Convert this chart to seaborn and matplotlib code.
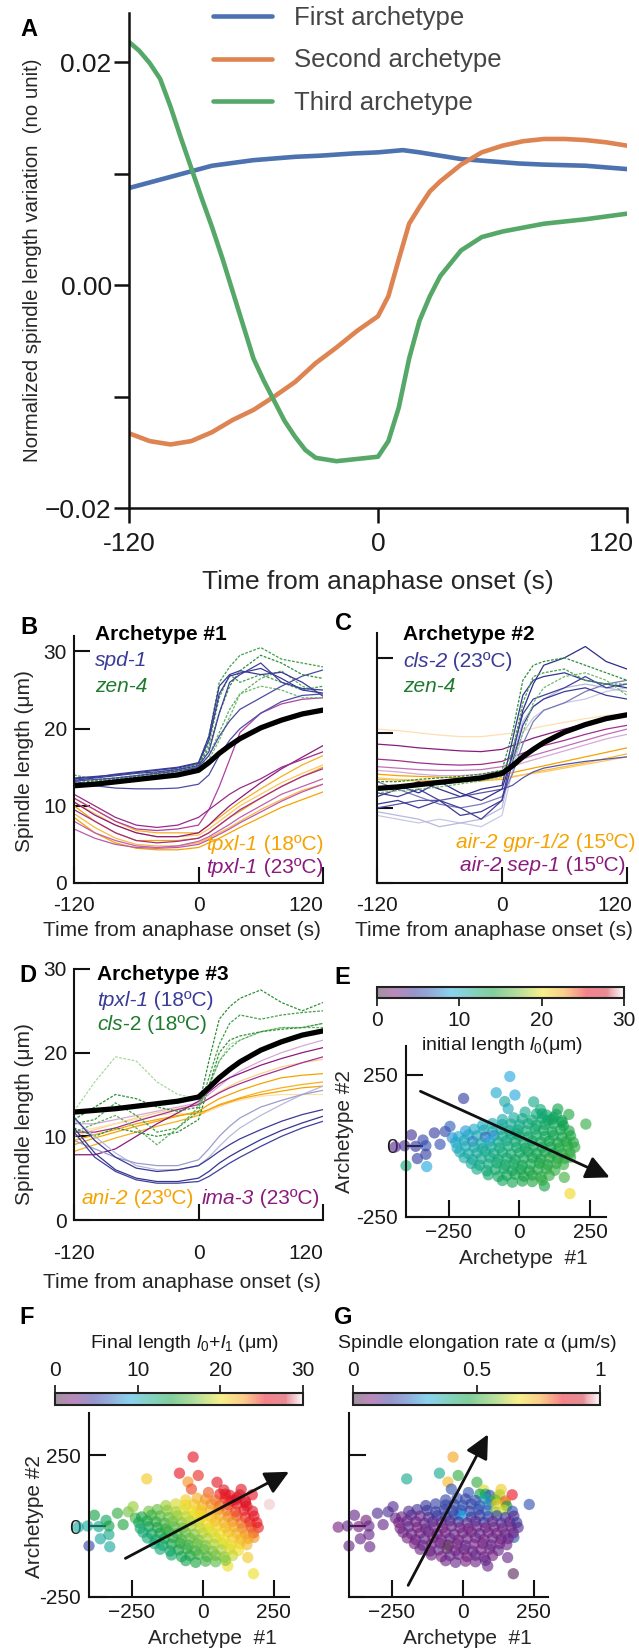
import matplotlib
matplotlib.use("Agg")
import matplotlib.pyplot as plt
import seaborn as sns
from matplotlib.colors import LinearSegmentedColormap, Normalize, to_rgb
from matplotlib.cm import ScalarMappable
from matplotlib.transforms import ScaledTranslation

# ---------------- A: archetypes (normalized spindle length variation) ----------------
first_t = [-120, -100, -80, -60, -40, -28, -12, 0, 12, 20, 40, 68, 80, 100, 120]
first_v = [0.0087, 0.0097, 0.0107, 0.0112, 0.0115, 0.0116, 0.0118, 0.0119, 0.0121,
           0.0119, 0.0113, 0.0109, 0.0108, 0.0107, 0.0104]
second_t = [-120, -110, -100, -90, -80, -70, -60, -50, -40, -30, -20, -10, 0, 5, 10,
            15, 20, 25, 30, 40, 50, 60, 70, 80, 90, 100, 110, 120]
second_v = [-0.0133, -0.0140, -0.0143, -0.0140, -0.0132, -0.0121, -0.0112, -0.0100,
            -0.0087, -0.0070, -0.0056, -0.0041, -0.0028, -0.0010, 0.0023, 0.0055,
            0.0070, 0.0084, 0.0093, 0.0108, 0.0119, 0.0125, 0.0129, 0.0131, 0.0131,
            0.0130, 0.0128, 0.0125]
third_t = [-120, -115, -110, -105, -100, -95, -90, -85, -80, -75, -70, -65, -60, -55,
           -50, -45, -40, -35, -30, -20, -10, 0, 5, 10, 15, 20, 25, 30, 40, 50, 60,
           80, 100, 120]
third_v = [0.0218, 0.0210, 0.0199, 0.0185, 0.0160, 0.0132, 0.0105, 0.0078, 0.0052,
           0.0024, -0.0006, -0.0036, -0.0066, -0.0086, -0.0104, -0.0122, -0.0136,
           -0.0148, -0.0155, -0.0158, -0.0156, -0.0154, -0.0140, -0.0110, -0.0066,
           -0.0032, -0.0010, 0.0008, 0.0031, 0.0043, 0.0048, 0.0055, 0.0059, 0.0064]

# ---------------- B-D: spindle length traces (um) ----------------
t_trace = [-120, -100, -80, -60, -40, -20, 0, 10, 20, 30, 40, 60, 80, 100, 120]
arch_bc = [12.6, 12.8, 13.1, 13.4, 13.7, 14.0, 14.6, 15.6, 16.8, 17.8, 18.7, 20.1, 21.1, 21.9, 22.4]
arch_d = [12.9, 13.1, 13.3, 13.6, 13.9, 14.2, 14.7, 15.8, 17.0, 18.0, 18.9, 20.3, 21.3, 22.1, 22.6]

b_spd1 = [
    [13.6, 13.8, 14.0, 14.3, 14.6, 14.9, 15.5, 18.5, 24.5, 26.8, 27.2, 27.8, 26.5, 25.0, 24.6],
    [13.3, 13.6, 13.9, 14.2, 14.4, 14.7, 15.2, 17.0, 22.0, 26.0, 27.0, 28.5, 26.0, 25.2, 25.0],
    [13.5, 13.7, 14.1, 14.4, 14.7, 15.0, 15.6, 19.0, 25.5, 27.0, 27.5, 27.0, 27.3, 26.0, 24.2],
    [13.2, 13.4, 13.6, 13.9, 14.2, 14.5, 15.0, 16.5, 19.0, 21.0, 22.5, 24.0, 25.5, 26.8, 27.6],
    [13.2, 12.6, 12.3, 12.2, 12.2, 12.3, 12.8, 14.0, 16.5, 18.5, 20.0, 22.0, 23.5, 24.3, 24.5],
]
b_zen4 = [
    [14.0, 13.4, 13.6, 13.9, 14.3, 14.8, 15.4, 19.0, 26.0, 28.0, 29.5, 30.5, 29.0, 28.5, 28.0],
    [13.0, 13.2, 13.5, 13.8, 14.2, 14.6, 15.2, 17.5, 22.0, 25.5, 27.5, 29.5, 28.5, 27.0, 26.5],
    [12.8, 13.1, 13.4, 13.7, 14.0, 14.4, 15.0, 16.5, 19.5, 22.5, 24.5, 26.5, 27.5, 25.5, 24.5],
    [13.5, 13.3, 13.6, 13.9, 14.3, 14.7, 15.3, 18.0, 24.0, 27.0, 26.0, 27.0, 26.0, 25.0, 25.5],
    [12.6, 12.9, 13.2, 13.6, 14.0, 14.5, 15.0, 16.0, 18.5, 21.5, 24.5, 25.5, 25.0, 24.0, 24.0],
]
b_tpxl_18 = [
    [11.0, 9.5, 8.0, 6.8, 6.5, 6.5, 6.5, 7.5, 8.5, 9.5, 10.5, 12.2, 13.8, 15.3, 16.5],
    [10.0, 8.0, 6.5, 5.5, 5.5, 5.5, 5.8, 6.5, 7.5, 8.5, 9.3, 11.0, 12.5, 13.8, 15.0],
    [9.0, 7.2, 5.8, 5.0, 4.8, 4.8, 5.2, 5.8, 6.5, 7.2, 8.0, 9.5, 10.8, 12.0, 12.8],
    [8.5, 6.5, 5.2, 4.5, 4.3, 4.3, 4.6, 5.2, 5.8, 6.5, 7.2, 8.5, 9.8, 10.8, 11.8],
    [10.5, 9.0, 7.5, 6.5, 6.0, 6.0, 6.2, 7.0, 8.0, 9.0, 10.0, 11.5, 13.0, 14.2, 15.3],
]
b_tpxl_23 = [
    [11.0, 9.5, 8.0, 7.0, 6.8, 7.0, 7.5, 9.5, 12.5, 16.0, 19.5, 22.0, 23.2, 23.8, 24.0],
    [10.5, 8.8, 7.5, 6.5, 6.0, 6.0, 6.5, 7.5, 8.8, 10.0, 11.0, 13.0, 14.8, 16.3, 17.8],
    [9.5, 8.0, 6.5, 5.5, 5.2, 5.4, 5.8, 6.5, 7.5, 8.5, 9.5, 11.0, 12.5, 13.8, 14.8],
    [8.0, 6.5, 5.5, 4.8, 4.6, 4.8, 5.4, 6.0, 6.8, 7.6, 8.5, 10.0, 11.5, 12.5, 13.5],
    [11.5, 10.0, 8.5, 7.5, 7.2, 7.5, 8.5, 9.5, 10.5, 11.5, 12.3, 13.5, 15.0, 16.0, 17.0],
    [7.0, 5.8, 5.0, 4.6, 4.5, 4.6, 5.0, 5.6, 6.3, 7.0, 7.8, 9.2, 10.6, 11.8, 12.8],
]
c_cls2 = [
    [9.0, 8.5, 8.0, 8.5, 8.0, 7.5, 9.0, 15.0, 20.0, 22.0, 23.0, 24.0, 24.5, 25.5, 26.0],
    [9.5, 9.0, 8.5, 7.5, 8.0, 8.5, 10.0, 16.5, 21.5, 23.5, 24.5, 26.0, 26.5, 26.0, 25.5],
    [13.5, 12.5, 11.5, 10.5, 10.0, 10.5, 11.5, 14.5, 18.5, 21.5, 23.0, 24.0, 25.5, 26.5, 27.0],
    [10.0, 10.5, 11.0, 11.0, 11.5, 12.0, 12.5, 13.0, 14.0, 14.8, 15.3, 15.8, 16.2, 16.5, 16.8],
    [12.5, 13.0, 12.0, 13.5, 12.0, 11.0, 12.5, 17.0, 23.0, 26.5, 29.0, 30.0, 31.5, 29.5, 28.5],
    [11.5, 12.5, 13.5, 12.5, 11.5, 12.5, 13.0, 19.0, 25.0, 27.0, 27.5, 28.0, 27.0, 26.5, 26.0],
    [10.5, 11.0, 10.0, 11.0, 9.0, 9.5, 11.0, 16.0, 21.0, 23.5, 24.5, 25.5, 26.0, 25.0, 24.5],
    [12.0, 11.5, 12.5, 11.0, 10.0, 8.5, 11.0, 17.5, 22.5, 24.5, 25.0, 26.0, 27.5, 26.0, 26.5],
]
c_zen4 = [
    [13.5, 13.5, 13.8, 14.0, 14.2, 14.5, 15.0, 20.0, 27.0, 29.0, 29.5, 30.0, 29.0, 28.0, 27.0],
    [12.5, 12.8, 13.0, 13.3, 13.6, 14.0, 14.5, 17.5, 24.0, 27.5, 28.0, 28.5, 27.0, 26.5, 26.5],
    [12.0, 12.3, 12.5, 12.8, 13.2, 13.6, 14.2, 16.0, 20.0, 24.0, 26.0, 27.5, 28.0, 27.0, 25.0],
]
c_gpr = [
    [20.5, 20.3, 20.0, 19.7, 19.5, 19.5, 19.8, 20.0, 20.3, 20.6, 20.9, 21.4, 21.9, 22.3, 22.6],
    [14.5, 14.3, 14.2, 14.1, 14.0, 14.0, 14.3, 14.7, 15.0, 15.3, 15.6, 16.2, 16.8, 17.4, 18.0],
    [13.8, 13.7, 13.6, 13.5, 13.5, 13.6, 13.8, 14.1, 14.4, 14.7, 15.0, 15.5, 16.0, 16.6, 17.2],
    [14.0, 13.8, 13.7, 13.6, 13.6, 13.7, 14.0, 14.2, 14.4, 14.6, 14.8, 15.3, 15.8, 16.3, 16.8],
]
c_sep1 = [
    [18.5, 18.3, 18.0, 17.8, 17.6, 17.5, 17.8, 18.3, 18.8, 19.3, 19.7, 20.5, 21.2, 21.8, 22.3],
    [16.5, 16.3, 16.0, 15.8, 15.7, 15.8, 16.2, 16.8, 17.3, 17.8, 18.3, 19.0, 19.8, 20.5, 21.0],
    [15.5, 15.3, 15.1, 15.0, 15.0, 15.1, 15.5, 16.0, 16.5, 17.0, 17.4, 18.2, 19.0, 19.8, 20.5],
    [15.0, 14.8, 14.5, 14.3, 14.3, 14.5, 15.0, 15.5, 16.0, 16.4, 16.8, 17.6, 18.4, 19.2, 19.8],
]
d_tpxl_18 = [
    [12.0, 10.0, 8.0, 6.5, 6.0, 6.0, 6.5, 7.5, 8.8, 10.0, 11.0, 12.5, 13.8, 15.0, 16.0],
    [9.5, 8.5, 7.5, 6.8, 6.5, 6.5, 7.2, 8.5, 10.0, 11.2, 12.2, 13.5, 14.3, 15.0, 15.5],
    [12.3, 9.5, 7.5, 6.2, 5.8, 6.0, 6.5, 7.3, 8.2, 9.0, 9.7, 10.8, 11.8, 12.6, 13.2],
    [11.0, 8.0, 6.0, 5.0, 4.6, 4.6, 5.0, 5.8, 6.8, 7.6, 8.3, 9.6, 10.7, 11.6, 12.4],
    [10.5, 7.5, 5.8, 4.8, 4.4, 4.4, 4.6, 5.2, 6.0, 6.8, 7.5, 8.8, 10.0, 11.0, 11.8],
]
d_cls2_18 = [
    [13.0, 16.5, 19.5, 19.0, 16.5, 15.0, 14.5, 16.0, 19.0, 21.0, 21.5, 22.5, 23.0, 23.0, 23.5],
    [12.0, 13.5, 15.0, 14.5, 13.5, 13.0, 13.5, 19.0, 24.0, 25.5, 26.5, 27.5, 26.0, 25.0, 26.0],
    [11.5, 12.0, 14.0, 12.5, 10.5, 11.0, 13.0, 17.0, 21.0, 23.5, 24.5, 24.0, 24.5, 24.8, 25.0],
    [10.5, 11.5, 12.5, 11.0, 9.0, 11.0, 13.5, 16.0, 19.0, 20.5, 21.5, 22.5, 23.0, 23.0, 23.0],
    [11.0, 10.0, 11.0, 10.5, 10.0, 10.5, 12.0, 16.0, 20.0, 21.5, 22.0, 22.5, 22.8, 23.0, 23.5],
]
d_ani2 = [
    [10.0, 10.8, 11.5, 12.2, 12.8, 13.3, 13.8, 14.5, 15.3, 16.0, 16.6, 17.5, 18.3, 18.8, 19.2],
    [10.5, 11.0, 11.5, 12.0, 12.5, 12.8, 12.5, 13.0, 13.5, 14.0, 14.3, 14.8, 15.0, 15.0, 15.0],
    [9.0, 9.8, 10.5, 11.2, 11.8, 12.4, 13.0, 13.8, 14.5, 15.0, 15.5, 16.3, 17.0, 17.3, 17.5],
    [8.2, 9.0, 9.8, 10.5, 11.2, 11.8, 12.5, 13.2, 13.8, 14.2, 14.6, 15.3, 15.8, 16.2, 16.5],
    [9.5, 10.2, 10.8, 11.5, 12.0, 12.5, 12.8, 13.2, 13.7, 14.1, 14.5, 15.0, 15.4, 15.8, 16.0],
]
d_ima3 = [
    [11.5, 11.5, 12.0, 12.5, 13.0, 13.5, 14.0, 15.0, 16.0, 17.0, 17.8, 19.0, 20.0, 20.8, 21.5],
    [10.5, 10.5, 11.0, 11.8, 12.5, 13.2, 13.8, 14.5, 15.2, 15.8, 16.3, 17.2, 18.0, 18.8, 19.5],
    [7.8, 7.8, 8.5, 10.0, 11.5, 12.8, 14.2, 15.3, 16.3, 17.0, 17.5, 18.5, 19.3, 20.0, 20.6],
]

# ---------------- E-G: embryos projected on archetypes #1 / #2 ----------------
arch1 = [-438, -405, -400, -381, -366, -360, -340, -330, -327, -330, -300, -280, -262, -245, -237,
         -197, -34, -82, -16, -52, 50, 74, 234, 178, 180, 158, 88, 135, 174, 120, 100, 150, 80, -40, -11,
         20, 60, 95, 130,
         -60, -20, 10, 45, 80, 115, 150,
         -130, -95, -60, -30, 0, 30, 60, 90, 120, 155,
         -190, -160, -125, -95, -65, -35, -5, 25, 55, 85, 115, 145, 175,
         -215, -180, -150, -120, -90, -60, -30, 0, 30, 60, 90, 120, 150, 180,
         -225, -195, -165, -135, -105, -75, -45, -15, 15, 45, 75, 105, 135, 165, 190,
         -220, -190, -160, -130, -100, -70, -40, -10, 20, 50, 80, 110, 140, 170, 195,
         -210, -180, -150, -120, -90, -60, -30, 0, 30, 60, 90, 120, 150, 178,
         -195, -165, -135, -105, -75, -45, -15, 15, 45, 75, 105, 135, 160,
         -170, -140, -110, -80, -50, -20, 10, 40, 70, 100, 130, 155,
         -150, -115, -85, -55, -25, 5, 35, 65, 95, 125,
         -110, -75, -45, -15, 15, 45, 75, 105,
         -60, -25, 10, 45, 80]
arch2 = [-4, 0, -70, 38, -2, -45, 20, 0, -73, -30, 45, 5, 50, 68, 28,
         166, 243, 186, 178, 155, 154, 127, 76, -168, -40, -111, -141, 129, 110, 100, 88, 82, 112, 130, 43,
         118, 112, 108, 110,
         92, 98, 95, 90, 96, 92, 88,
         72, 78, 74, 76, 73, 78, 72, 75, 77, 70,
         52, 58, 55, 50, 57, 53, 56, 52, 58, 54, 50, 56, 52,
         32, 38, 35, 30, 36, 33, 38, 34, 31, 37, 33, 36, 30, 35,
         12, 18, 15, 10, 16, 13, 18, 14, 11, 17, 13, 16, 10, 15, 12,
         -8, -2, -5, -10, -3, -7, -1, -6, -9, -2, -6, -4, -8, -3, -5,
         -22, -28, -25, -20, -27, -23, -29, -24, -21, -27, -22, -26, -28, -24,
         -42, -48, -45, -40, -47, -43, -49, -44, -41, -47, -42, -46, -44,
         -62, -68, -64, -60, -67, -63, -69, -64, -61, -67, -62, -66,
         -82, -88, -84, -80, -87, -83, -89, -84, -81, -86,
         -102, -108, -104, -100, -107, -103, -109, -104,
         -122, -128, -124, -126, -121]
init_len = [3.5, 4, 12, 4, 4.5, 5, 5.5, 6, 9, 5, 5, 6, 5.5, 6.5, 8,
            5, 9, 9.5, 9, 11, 11.5, 12, 15, 20.5, 15, 15.5, 14, 14, 14.5, 14, 13.5, 14.5, 12.5, 10, 12,
            11.3, 11.9, 12.3, 12.7,
            10.7, 11.1, 11.5, 12.0, 12.3, 12.8, 13.2,
            10.1, 10.4, 10.9, 11.2, 11.6, 11.9, 12.5, 12.7, 13.0, 13.5,
            8.5, 9.8, 10.3, 10.8, 11.0, 11.4, 11.8, 12.2, 12.5, 12.9, 13.3, 13.6, 14.0,
            9.5, 9.9, 10.3, 6.5, 8.0, 11.4, 11.7, 12.1, 12.5, 12.8, 13.2, 13.5, 14.0, 14.3,
            9.7, 10.0, 7.5, 10.7, 9.0, 11.4, 11.7, 12.2, 12.5, 12.8, 13.2, 13.6, 14.0, 14.3, 14.6,
            9.9, 10.2, 10.6, 11.0, 11.3, 11.7, 12.0, 12.4, 12.8, 13.1, 13.5, 13.9, 14.3, 14.6, 14.9,
            10.2, 10.7, 11.0, 11.3, 11.7, 12.1, 12.5, 12.8, 13.1, 13.5, 13.8, 14.2, 14.6, 14.9,
            10.7, 11.1, 11.4, 11.7, 12.2, 12.5, 12.9, 13.2, 13.5, 13.9, 14.3, 14.7, 15.0,
            11.2, 11.6, 11.9, 12.3, 12.7, 13.0, 13.4, 13.7, 14.1, 14.5, 14.8, 15.2,
            11.7, 12.2, 12.5, 12.8, 13.2, 13.6, 14.0, 14.3, 14.6, 15.0,
            12.4, 12.9, 13.2, 13.5, 14.0, 14.3, 14.7, 15.0,
            13.2, 13.7, 14.1, 14.5, 14.9]
final_len = [11, 11, 5.5, 14, 11.5, 11, 13, 14, 11, 11.5, 15, 14.5, 17, 18, 15.5,
             21, 26, 25.5, 25, 23, 26, 26.5, 29.5, 20, 23, 21, 20, 26, 25.5, 26, 25.5, 26, 26.5, 24.5, 20.5,
             24.2, 25.2, 26.2, 27.2,
             20.9, 22.3, 23.1, 24.0, 25.3, 26.1, 27.0,
             18.1, 19.4, 20.3, 21.3, 22.1, 23.1, 23.8, 24.8, 25.8, 26.6,
             17.0, 16.7, 17.7, 18.4, 19.5, 20.3, 21.3, 22.1, 23.2, 24.0, 24.7, 25.8, 26.6,
             14.2, 15.4, 16.2, 17.0, 18.0, 18.9, 19.9, 20.7, 21.5, 22.6, 23.3, 24.4, 25.1, 26.1,
             13.2, 14.3, 15.0, 15.8, 17.0, 17.7, 18.8, 19.5, 20.4, 21.5, 22.2, 23.2, 23.9, 25.0, 25.6,
             12.6, 13.7, 14.5, 15.2, 16.4, 17.1, 18.3, 19.0, 19.8, 20.9, 21.7, 22.7, 23.4, 24.5, 25.2,
             12.4, 13.1, 14.1, 15.2, 15.8, 16.9, 17.6, 18.7, 19.7, 20.4, 21.5, 22.2, 23.0, 24.0,
             12.2, 13.0, 13.9, 15.0, 15.6, 16.6, 17.3, 18.4, 19.4, 20.1, 21.2, 21.9, 22.8,
             12.2, 13.0, 13.9, 15.0, 15.7, 16.7, 17.4, 18.5, 19.5, 20.2, 21.2, 21.9,
             12.1, 13.0, 14.0, 15.1, 15.7, 16.7, 17.4, 18.5, 19.5, 20.2,
             12.6, 13.5, 14.5, 15.6, 16.2, 17.2, 17.9, 19.0,
             13.4, 14.3, 15.4, 16.4, 17.6]
elong_rate = [0.08, 0.1, 0.1, 0.1, 0.08, 0.1, 0.06, 0.1, 0.1, 0.1, 0.12, 0.1, 0.13, 0.12, 0.1,
              0.38, 0.75, 0.38, 0.5, 0.72, 0.5, 0.65, 0.2, 0.02, 0.2, 0.1, 0.1, 0.7, 0.85, 0.68, 0.5, 0.72, 0.42, 0.2, 0.3,
              0.2, 0.45, 0.2, 0.62,
              0.18, 0.2, 0.17, 0.2, 0.35, 0.55, 0.8,
              0.15, 0.17, 0.18, 0.17, 0.2, 0.18, 0.2, 0.25, 0.7, 0.45,
              0.12, 0.14, 0.15, 0.17, 0.16, 0.18, 0.2, 0.17, 0.2, 0.22, 0.6, 0.65, 0.2,
              0.1, 0.12, 0.1, 0.12, 0.15, 0.17, 0.18, 0.3, 0.17, 0.15, 0.2, 0.17, 0.15, 0.12,
              0.08, 0.1, 0.09, 0.1, 0.12, 0.1, 0.12, 0.15, 0.1, 0.12, 0.15, 0.1, 0.12, 0.1, 0.15,
              0.08, 0.1, 0.08, 0.1, 0.09, 0.08, 0.1, 0.08, 0.09, 0.1, 0.08, 0.1, 0.09, 0.1, 0.12,
              0.09, 0.1, 0.08, 0.1, 0.09, 0.08, 0.1, 0.09, 0.08, 0.1, 0.09, 0.08, 0.1, 0.09,
              0.08, 0.09, 0.1, 0.08, 0.09, 0.1, 0.08, 0.09, 0.1, 0.08, 0.09, 0.1, 0.09,
              0.08, 0.1, 0.09, 0.08, 0.03, 0.09, 0.1, 0.08, 0.09, 0.1, 0.08, 0.09,
              0.09, 0.08, 0.1, 0.02, 0.08, 0.09, 0.1, 0.08, 0.09, 0.1,
              0.09, 0.08, 0.1, 0.09, 0.08, 0.1, 0.09, 0.08,
              0.09, 0.1, 0.08, 0.09, 0.1]

# direction arrows (start, tip) in archetype coordinates
arrow_e = [(-349, 191), (318, -111)]
arrow_f = [(-272, -114), (303, 191)]
arrow_g = [(-192, -209), (89, 323)]

# ---------------- style ----------------
sns.set_theme(style="ticks")
plt.rcParams["font.family"] = ["Liberation Sans", "DejaVu Sans"]
plt.rcParams["mathtext.fontset"] = "custom"
plt.rcParams["mathtext.rm"] = "Liberation Sans"
plt.rcParams["mathtext.it"] = "Liberation Sans:italic"
plt.rcParams["text.color"] = "#1a1a1a"
plt.rcParams["xtick.color"] = "#1a1a1a"
plt.rcParams["ytick.color"] = "#1a1a1a"

W, H = 639, 1650
BLUE, GREEN, ORANGE, PURPLE = "#3a3a98", "#1e7b2e", "#f5a300", "#8b1a7d"

spectral_anchors = [(0.00, "#4b2d4b"), (0.07, "#7c1c7c"), (0.15, "#34349a"), (0.20, "#3050b0"),
                    (0.30, "#20a8e0"), (0.40, "#10a878"), (0.47, "#10a040"), (0.57, "#70c040"),
                    (0.67, "#f0e020"), (0.76, "#f5a020"), (0.85, "#e81020"), (0.93, "#d02030"),
                    (1.00, "#f8f8f8")]
spectral = LinearSegmentedColormap.from_list("spec", spectral_anchors)
spectral_bar = LinearSegmentedColormap.from_list(
    "spec_bar", [(p, tuple(0.52 * c + 0.48 for c in to_rgb(col))) for p, col in spectral_anchors])


def box(l, t, r, b):
    return [l / W, 1 - b / H, (r - l) / W, (b - t) / H]


def fx(x):
    return x / W


def fy(y):
    return 1 - y / H


fig = plt.figure(figsize=(6.39, 16.5), dpi=100)
overlay = fig.add_axes([0, 0, 1, 1], zorder=10)
overlay.axis("off")
overlay.set_xlim(0, 1)
overlay.set_ylim(0, 1)


def place_xlabel(ax, text, x, y, size):
    ax.set_xlabel(text, fontsize=size)
    ax.xaxis.set_label_coords(fx(x), fy(y), transform=fig.transFigure)
    ax.xaxis.label.set_verticalalignment("center")


def place_ylabel(ax, text, x, y, size):
    ax.set_ylabel(text, fontsize=size)
    ax.yaxis.set_label_coords(fx(x), fy(y), transform=fig.transFigure)
    ax.yaxis.label.set_verticalalignment("center")


def right_last_xlabel(ax, shift_px=0):
    lab = ax.get_xticklabels()[-1]
    lab.set_horizontalalignment("right")
    lab.set_transform(lab.get_transform() + ScaledTranslation(shift_px / 100, 0, fig.dpi_scale_trans))


def label_row(x, y, parts, align="left", size=15):
    # parts: (text, fontstyle, fontweight, color) placed next to each other
    seq = parts if align == "left" else parts[::-1]
    prev = None
    for s, style, weight, col in seq:
        kw = dict(fontsize=size, fontstyle=style, fontweight=weight, color=col, va="center")
        if prev is None:
            prev = overlay.text(fx(x), fy(y), s, ha=align, **kw)
        elif align == "left":
            prev = overlay.annotate(s, xy=(1, 0.5), xycoords=prev, ha="left", **kw)
        else:
            prev = overlay.annotate(s, xy=(0, 0.5), xycoords=prev, ha="right", **kw)


def panel_letter(x, y, s):
    overlay.text(fx(x), fy(y), s, fontsize=17, fontweight="bold", ha="center", va="center", color="black")


# ---------------- A ----------------
deep = sns.color_palette("deep")
axA = fig.add_axes(box(129, 13, 627, 508))
for tt, vv, col, name in [(first_t, first_v, deep[0], "First archetype"),
                          (second_t, second_v, deep[1], "Second archetype"),
                          (third_t, third_v, deep[2], "Third archetype")]:
    sns.lineplot(x=tt, y=vv, ax=axA, color=col, lw=3.3, label=name)
axA.set_xlim(-120, 120)
axA.set_ylim(-0.02, 0.0244)
axA.set_xticks([-120, 0, 120], ["-120", "0", "120"])
axA.set_yticks([-0.02, -0.01, 0, 0.01, 0.02], ["\u22120.02", "", "0.00", "", "0.02"])
sns.despine(ax=axA)
for s in ("left", "bottom"):
    axA.spines[s].set_linewidth(1.8)
    axA.spines[s].set_color("#111111")
axA.tick_params(direction="out", length=11, width=1.8, labelsize=19, color="#111111")
axA.tick_params(axis="x", pad=6)
axA.tick_params(axis="y", pad=1.5)
right_last_xlabel(axA, 6)
place_xlabel(axA, "Time from anaphase onset (s)", 378, 582, 19)
place_ylabel(axA, "Normalized spindle length variation  (no unit)", 33, 260, 17)
leg = axA.legend(loc="upper left", bbox_to_anchor=(fx(213), fy(6)), bbox_transform=fig.transFigure,
                 frameon=False, fontsize=18.5, handlelength=2.3, handletextpad=0.85,
                 labelspacing=0.72, borderpad=0, borderaxespad=0)
for txt in leg.get_texts():
    txt.set_color("#454545")
for ln in leg.get_lines():
    ln.set_linewidth(3.3)
panel_letter(29, 29, "A")


# ---------------- B-D ----------------
def trace_axes(rect, ytop, show_ylabels=True):
    ax = fig.add_axes(box(*rect))
    ax.set_xlim(-120, 120)
    ax.set_ylim(0, ytop)
    sns.despine(ax=ax)
    for s in ("left", "bottom"):
        ax.spines[s].set_linewidth(1.5)
        ax.spines[s].set_color("#111111")
    ax.set_xticks([-120, 0, 120], ["-120", "0", "120"])
    ax.set_yticks([0, 10, 20, 30])
    if not show_ylabels:
        ax.set_yticklabels([])
    ax.tick_params(direction="in", length=11.5, width=1.5, labelsize=15, color="#111111")
    ax.tick_params(axis="x", pad=9.5)
    ax.tick_params(axis="y", pad=5)
    return ax


def draw_group(ax, traces, colors, ls="-", lw=0.9):
    for vals, col in zip(traces, colors):
        sns.lineplot(x=t_trace, y=vals, ax=ax, color=col, lw=lw, ls=ls)


dotted = (0, (2.2, 1.2))

axB = trace_axes((74, 636, 323, 883), 32)
draw_group(axB, b_tpxl_18, ["#f7b020", ORANGE, "#f8b840", ORANGE, "#fbc860"])
draw_group(axB, b_tpxl_23, ["#b040a0", PURPLE, "#a03090", "#c060b0", "#9a2a8a", "#b85aa8"])
draw_group(axB, b_zen4, ["#3fa046", "#2e8f3a", "#5ab060", "#3fa046", "#6cbc6c"], ls=dotted)
draw_group(axB, b_spd1, [BLUE, "#40409c", BLUE, "#4a4aa4", "#4c4ca8"])
sns.lineplot(x=t_trace, y=arch_bc, ax=axB, color="black", lw=3.8)
right_last_xlabel(axB)
place_xlabel(axB, "Time from anaphase onset (s)", 182, 930, 15)
place_ylabel(axB, "Spindle length (\u03bcm)", 25, 761, 15)
panel_letter(29, 627, "B")
label_row(95, 635, [("Archetype #1", "normal", "bold", "black")])
label_row(95, 661, [("spd-1", "italic", "normal", BLUE)])
label_row(95, 687, [("zen-4", "italic", "normal", GREEN)])
label_row(323, 845, [("tpxl-1", "italic", "normal", ORANGE), (" (18\u00baC)", "normal", "normal", ORANGE)], "right")
label_row(323, 867, [("tpxl-1", "italic", "normal", PURPLE), (" (23\u00baC)", "normal", "normal", PURPLE)], "right")

axC = trace_axes((377, 633, 627, 883), 33.3, show_ylabels=False)
draw_group(axC, c_gpr, ["#fde0b0", ORANGE, "#f8b840", "#fbc860"])
draw_group(axC, c_sep1, [PURPLE, "#a03090", "#c070b8", "#d8a8d4"])
draw_group(axC, c_cls2, ["#c8c8e4", "#b8b8dc", "#7a7ab8", "#5656a8", "#2e2e8c", "#35358f", BLUE, "#40409c"])
draw_group(axC, c_zen4, ["#2e8f3a", "#3fa046", "#6cbc6c"], ls=dotted)
sns.lineplot(x=t_trace, y=arch_bc, ax=axC, color="black", lw=3.8)
right_last_xlabel(axC, 5)
place_xlabel(axC, "Time from anaphase onset (s)", 494, 930, 15)
axC.set_ylabel("")
panel_letter(343, 623, "C")
label_row(403, 635, [("Archetype #2", "normal", "bold", "black")])
label_row(403, 662, [("cls-2", "italic", "normal", BLUE), (" (23\u00baC)", "normal", "normal", BLUE)])
label_row(403, 687, [("zen-4", "italic", "normal", GREEN)])
label_row(635, 843, [("air-2 gpr-1/2", "italic", "normal", ORANGE), (" (15\u00baC)", "normal", "normal", ORANGE)], "right")
label_row(625, 865, [("air-2 sep-1", "italic", "normal", PURPLE), (" (15\u00baC)", "normal", "normal", PURPLE)], "right")

axD = trace_axes((74, 969, 323, 1220), 30)
draw_group(axD, d_ani2, ["#fbd08a", "#fde0b0", ORANGE, "#f7b020", ORANGE])
draw_group(axD, d_ima3, ["#d8a8d4", "#a03090", PURPLE])
draw_group(axD, d_cls2_18, ["#a8d8a0", "#2e8f3a", "#3fa046", "#5ab060", "#2e8f3a"], ls=dotted)
draw_group(axD, d_tpxl_18, ["#b8b8dc", "#9c9ccc", BLUE, "#35358f", "#40409c"])
sns.lineplot(x=t_trace, y=arch_d, ax=axD, color="black", lw=3.8)
axD.tick_params(axis="x", pad=17)
right_last_xlabel(axD)
place_xlabel(axD, "Time from anaphase onset (s)", 182, 1282, 15)
place_ylabel(axD, "Spindle length (\u03bcm)", 25, 1114, 15)
panel_letter(28, 975, "D")
label_row(97, 975, [("Archetype #3", "normal", "bold", "black")])
label_row(97, 1000, [("tpxl-1", "italic", "normal", BLUE), (" (18\u00baC)", "normal", "normal", BLUE)])
label_row(97, 1025, [("cls", "italic", "normal", GREEN), ("-2 (18\u00baC)", "normal", "normal", GREEN)])
label_row(82, 1198, [("ani-2", "italic", "normal", ORANGE), (" (23\u00baC)", "normal", "normal", ORANGE)])
label_row(202, 1198, [("ima-3", "italic", "normal", PURPLE), (" (23\u00baC)", "normal", "normal", PURPLE)])


# ---------------- E-G ----------------
def scatter_axes(rect, ytop, values, vmax, arrow, show_ylabels=True):
    ax = fig.add_axes(box(*rect))
    sns.scatterplot(x=arch1, y=arch2, hue=values, palette=spectral, hue_norm=(0, vmax),
                    s=66, alpha=0.62, linewidth=0, legend=False, ax=ax, clip_on=False)
    ax.set_xlim(-400, 303)
    ax.set_ylim(-250, ytop)
    sns.despine(ax=ax)
    for s in ("left", "bottom"):
        ax.spines[s].set_linewidth(1.5)
        ax.spines[s].set_color("#111111")
    ax.set_xticks([-250, 0, 250], ["\u2212250", "0", "250"])
    if show_ylabels:
        ax.set_yticks([-250, 0, 250], ["-250", "0", "250"])
    else:
        ax.set_yticks([-250, 0, 250], ["", "", ""])
    ax.tick_params(direction="in", length=12, width=1.5, labelsize=15, color="#111111")
    ax.tick_params(axis="x", pad=4)
    ax.tick_params(axis="y", pad=6)
    ax.annotate("", xy=arrow[1], xytext=arrow[0], annotation_clip=False,
                arrowprops=dict(arrowstyle="-|>,head_length=0.45,head_width=0.22", color="#111111",
                                lw=2, mutation_scale=32, shrinkA=0, shrinkB=0))
    ax.set_xlabel("")
    ax.set_ylabel("")
    return ax


def colorbar(rect, vmax, ticks, ticklabels, side):
    cax = fig.add_axes(box(*rect))
    cb = fig.colorbar(ScalarMappable(norm=Normalize(0, vmax), cmap=spectral_bar), cax=cax,
                      orientation="horizontal")
    cb.set_ticks(ticks, labels=ticklabels)
    cb.outline.set_linewidth(1.5)
    cb.outline.set_edgecolor("#222222")
    cax.xaxis.set_ticks_position(side)
    cax.tick_params(direction="out", length=6, width=1.3, labelsize=15, pad=3.5, color="#222222")
    return cax


axE = scatter_axes((406, 1046, 606, 1217), 350, init_len, 30, arrow_e)
axE.set_xlim(-400, 305)
place_xlabel(axE, "Archetype  #1", 523, 1259, 15)
place_ylabel(axE, "Archetype #2", 345, 1132, 15)
caxE = colorbar((377, 987, 624, 998), 30, [0, 10, 20, 30], ["0", "10", "20", "30"], "bottom")
overlay.text(fx(502), fy(1045), "initial length $\\mathit{l}_{\\mathit{0}}$(\u03bcm)", fontsize=14,
             ha="center", va="center")
panel_letter(342, 977, "E")

axF = scatter_axes((89, 1413, 289, 1597), 398, final_len, 30, arrow_f)
place_xlabel(axF, "Archetype  #1", 212, 1638, 15)
place_ylabel(axF, "Archetype #2", 35, 1517, 15)
caxF = colorbar((55, 1393, 303, 1405), 30, [0, 10, 20, 30], ["0", "10", "20", "30"], "top")
overlay.text(fx(185), fy(1343), "Final length $\\mathit{l}_{\\mathit{0}}$+$\\mathit{l}_{\\mathit{1}}$ (\u03bcm)",
             fontsize=14, ha="center", va="center")
panel_letter(27, 1318, "F")

axG = scatter_axes((349, 1413, 548, 1597), 398, elong_rate, 1, arrow_g, show_ylabels=False)
axG.set_xlim(-400, 300)
place_xlabel(axG, "Archetype  #1", 467, 1638, 15)
caxG = colorbar((353, 1393, 600, 1405), 1, [0, 0.5, 1], ["0", "0.5", "1"], "top")
overlay.text(fx(477), fy(1343), "Spindle elongation rate \u03b1 (\u03bcm/s)", fontsize=14,
             ha="center", va="center")
panel_letter(343, 1317, "G")

# fit the long panel-A axis title to the span it covers in the reference (about 406 px)
fig.canvas.draw()
ylab = axA.yaxis.label
span = ylab.get_window_extent(fig.canvas.get_renderer()).height
ylab.set_fontsize(ylab.get_fontsize() * 406 / span)

fig.savefig("out.png", dpi=100)
